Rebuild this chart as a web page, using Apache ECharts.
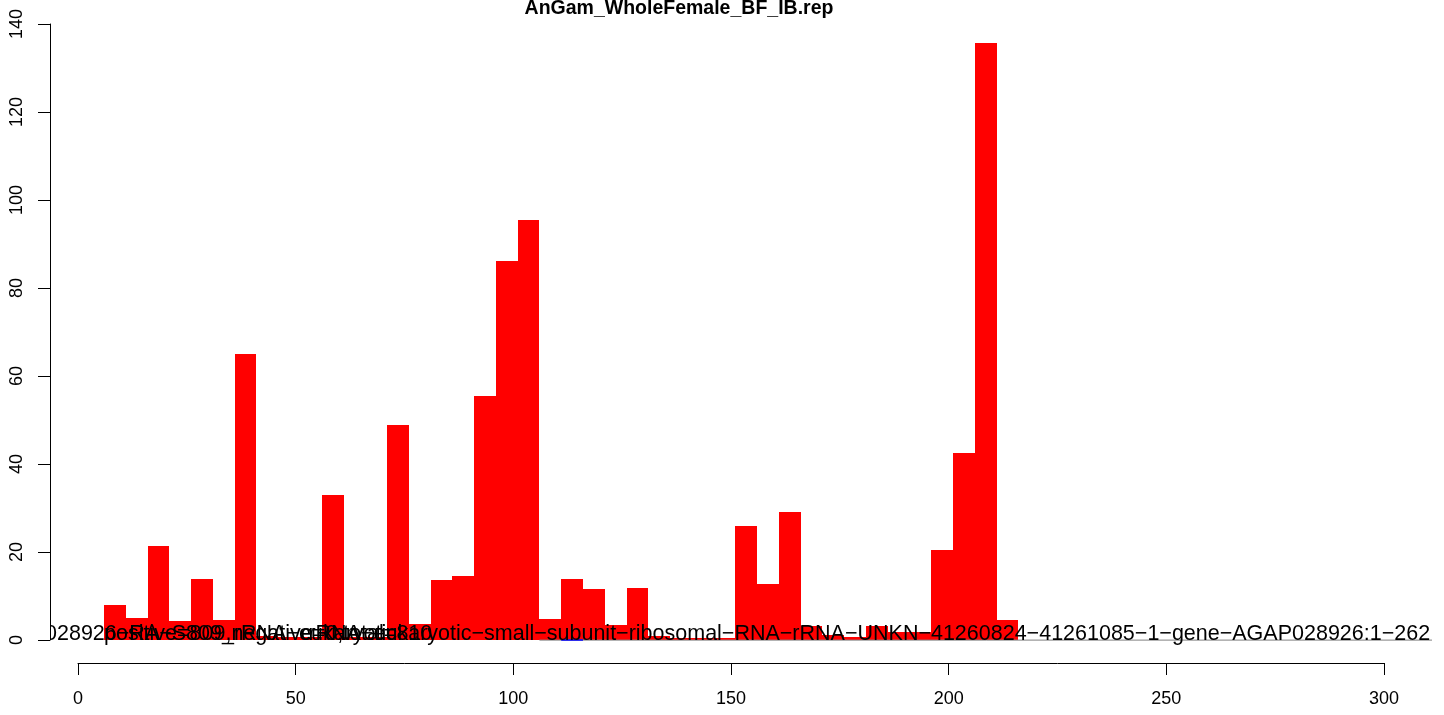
<!DOCTYPE html>
<html>
<head>
<meta charset="utf-8">
<script src="https://cdn.jsdelivr.net/npm/echarts@6/dist/echarts.min.js"></script>
<style>
html,body{margin:0;padding:0;background:#fff;}
#chart{width:1444px;height:715px;}
</style>
</head>
<body>
<div id="chart"></div>
<script>
// ---- data ----
const chartTitle = "AnGam_WholeFemale_BF_IB.rep";
const binWidth = 5;
const binStarts = [6, 11, 16, 21, 26, 31, 36, 41, 46, 51, 56, 61, 66, 71, 76, 81, 86, 91, 96, 101,
  106, 111, 116, 121, 126, 131, 136, 141, 146, 151, 156, 161, 166, 171, 176, 181, 186, 191, 196, 201, 206, 211];
const coverage = [8.0, 5.0, 21.4, 4.3, 13.9, 4.5, 65.0, 1.0, 0.8, 0.8, 33.0, 0.6, 0.6, 48.9, 3.6, 13.6, 14.5, 55.5, 86.1, 95.5,
  4.8, 13.9, 11.6, 3.4, 11.8, 1.0, 0.5, 0.4, 0.5, 25.9, 12.8, 29.1, 3.3, 1.1, 0.6, 3.2, 1.8, 1.8, 20.5, 42.5, 135.7, 4.5];
const featureLine = [[106, 0], [320, 0]];
const negativeLine = [[111, 0], [116, 0]];
const labelTexts = [
  "AGAP028926−RA−S809_rRNA−eukaryotic",
  "positive=809,negative=0,total=810",
  "rRNA−eukaryotic−small−subunit−ribosomal−RNA−rRNA−UNKN−41260824−41261085−1−gene−AGAP028926:1−262"
];
const labelX = [-21.3, 6, 310.6];
const labelAlign = ['left', 'left', 'right'];
const xTicks = {min: 0, max: 300, interval: 50};
const yTicks = {min: 0, max: 140, interval: 20};

// ---- chart ----
const FONT = "'Liberation Sans', Arial, Helvetica, sans-serif";
const chart = echarts.init(document.getElementById('chart'), null, {renderer: 'canvas'});

const barData = binStarts.map((s, i) => [s, coverage[i]]);
const labelData = labelTexts.map((t, i) => [labelX[i], 0, i]);

const option = {
  animation: false,
  backgroundColor: '#ffffff',
  title: {
    text: chartTitle,
    left: 674, top: -6, textAlign: 'center',
    textStyle: {fontFamily: FONT, fontSize: 19.5, fontWeight: 'bold', color: '#000'}
  },
  grid: [
    {left: 50, right: 13, top: 19, bottom: 51, containLabel: false},
    {left: 78, width: 1306, top: 613, height: 50, containLabel: false},
    {left: 50, width: 10, top: 24, height: 616, containLabel: false}
  ],
  xAxis: [
    {gridIndex: 0, type: 'value', min: -6.43, max: 310.8, show: false},
    {gridIndex: 1, type: 'value', min: xTicks.min, max: xTicks.max, interval: xTicks.interval, position: 'bottom',
      axisLine: {show: true, lineStyle: {color: '#000', width: 1}},
      axisTick: {show: true, length: 12, lineStyle: {color: '#000', width: 1}},
      axisLabel: {margin: 27, fontSize: 18, color: '#000', fontFamily: FONT},
      splitLine: {show: false}},
    {gridIndex: 2, type: 'value', show: false}
  ],
  yAxis: [
    {gridIndex: 0, type: 'value', min: -5.43, max: 141.1, show: false},
    {gridIndex: 1, type: 'value', show: false},
    {gridIndex: 2, type: 'value', min: yTicks.min, max: yTicks.max, interval: yTicks.interval, position: 'left',
      axisLine: {show: true, lineStyle: {color: '#000', width: 1}},
      axisTick: {show: true, length: 12, lineStyle: {color: '#000', width: 1}},
      axisLabel: {margin: 24, rotate: 90, fontSize: 18, color: '#000', fontFamily: FONT},
      splitLine: {show: false}}
  ],
  series: [
    {
      type: 'custom', xAxisIndex: 0, yAxisIndex: 0, clip: true, z: 2,
      data: barData,
      renderItem: function (params, api) {
        const x0 = api.value(0), v = api.value(1);
        const p0 = api.coord([x0, v]);
        const p1 = api.coord([x0 + binWidth, 0]);
        const xa = Math.round(p0[0]), xb = Math.round(p1[0]);
        const ya = Math.round(p0[1]), yb = Math.round(p1[1]);
        return {type: 'rect', shape: {x: xa, y: ya, width: xb - xa, height: Math.max(1, yb - ya)},
          style: {fill: '#FF0000'}};
      }
    },
    {
      type: 'line', xAxisIndex: 0, yAxisIndex: 0, data: featureLine, showSymbol: false, clip: true, z: 3,
      lineStyle: {color: '#808080', width: 1}, silent: true
    },
    {
      type: 'line', xAxisIndex: 0, yAxisIndex: 0, data: negativeLine, showSymbol: false, clip: true, z: 3,
      lineStyle: {color: '#0000FF', width: 1.5}, silent: true
    },
    {
      type: 'custom', xAxisIndex: 0, yAxisIndex: 0, clip: true, z: 5,
      data: labelData,
      renderItem: function (params, api) {
        const i = api.value(2);
        const p = api.coord([api.value(0), api.value(1)]);
        return {type: 'text', x: p[0], y: p[1] + 5,
          style: {text: labelTexts[i], font: '21.5px ' + FONT, fill: '#000',
            align: labelAlign[i], verticalAlign: 'bottom'}};
      }
    }
  ]
};
chart.setOption(option);
</script>
</body>
</html>
